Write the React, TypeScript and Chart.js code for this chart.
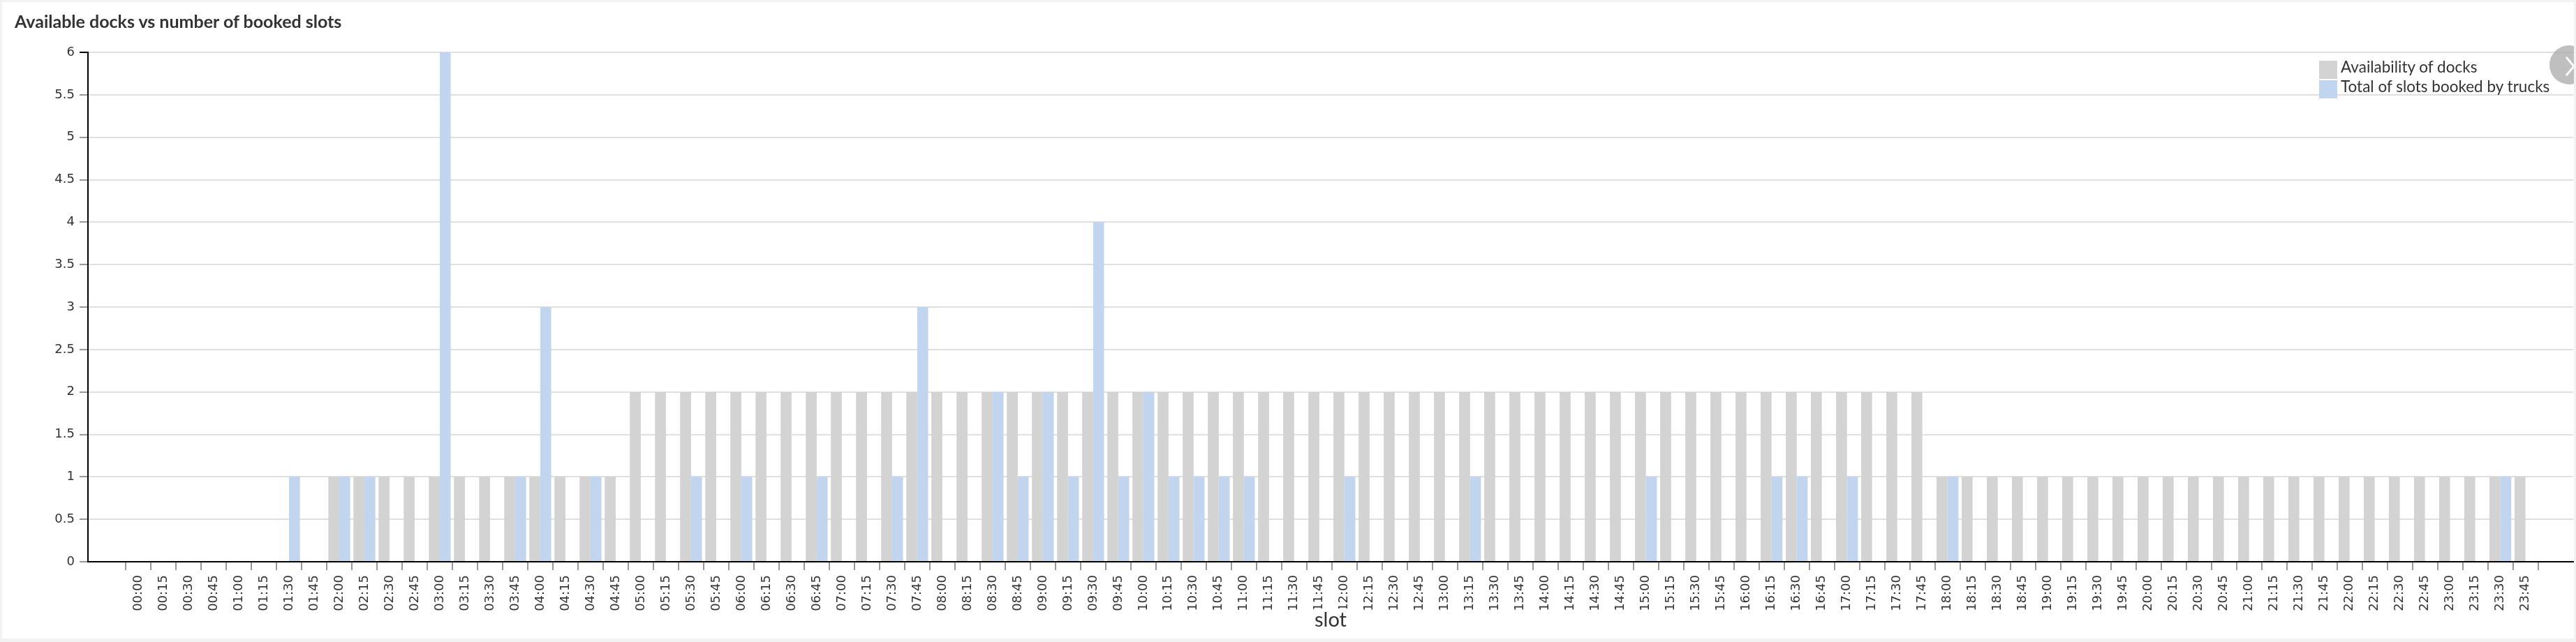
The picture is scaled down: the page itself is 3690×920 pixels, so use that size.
import React, { useEffect, useRef } from "react";
import { Chart, registerables } from "chart.js";

Chart.register(...registerables);

const TITLE = "Available docks vs number of booked slots";
const X_TITLE = "slot";
const SERIES_NAMES = ["Availability of docks", "Total of slots booked by trucks"];

const slots = [
  "00:00", "00:15", "00:30", "00:45", "01:00", "01:15", "01:30", "01:45", "02:00", "02:15", "02:30", "02:45",
  "03:00", "03:15", "03:30", "03:45", "04:00", "04:15", "04:30", "04:45", "05:00", "05:15", "05:30", "05:45",
  "06:00", "06:15", "06:30", "06:45", "07:00", "07:15", "07:30", "07:45", "08:00", "08:15", "08:30", "08:45",
  "09:00", "09:15", "09:30", "09:45", "10:00", "10:15", "10:30", "10:45", "11:00", "11:15", "11:30", "11:45",
  "12:00", "12:15", "12:30", "12:45", "13:00", "13:15", "13:30", "13:45", "14:00", "14:15", "14:30", "14:45",
  "15:00", "15:15", "15:30", "15:45", "16:00", "16:15", "16:30", "16:45", "17:00", "17:15", "17:30", "17:45",
  "18:00", "18:15", "18:30", "18:45", "19:00", "19:15", "19:30", "19:45", "20:00", "20:15", "20:30", "20:45",
  "21:00", "21:15", "21:30", "21:45", "22:00", "22:15", "22:30", "22:45", "23:00", "23:15", "23:30", "23:45",
];

const availability = [
  0, 0, 0, 0, 0, 0, 0, 0, 1, 1, 1, 1,
  1, 1, 1, 1, 1, 1, 1, 1, 2, 2, 2, 2,
  2, 2, 2, 2, 2, 2, 2, 2, 2, 2, 2, 2,
  2, 2, 2, 2, 2, 2, 2, 2, 2, 2, 2, 2,
  2, 2, 2, 2, 2, 2, 2, 2, 2, 2, 2, 2,
  2, 2, 2, 2, 2, 2, 2, 2, 2, 2, 2, 2,
  1, 1, 1, 1, 1, 1, 1, 1, 1, 1, 1, 1,
  1, 1, 1, 1, 1, 1, 1, 1, 1, 1, 1, 1,
];

const booked = [
  0, 0, 0, 0, 0, 0, 1, 0, 1, 1, 0, 0,
  6, 0, 0, 1, 3, 0, 1, 0, 0, 0, 1, 0,
  1, 0, 0, 1, 0, 0, 1, 3, 0, 0, 2, 1,
  2, 1, 4, 1, 2, 1, 1, 1, 1, 0, 0, 0,
  1, 0, 0, 0, 0, 1, 0, 0, 0, 0, 0, 0,
  1, 0, 0, 0, 0, 1, 1, 0, 1, 0, 0, 0,
  1, 0, 0, 0, 0, 0, 0, 0, 0, 0, 0, 0,
  0, 0, 0, 0, 0, 0, 0, 0, 0, 0, 1, 0,
];

const Y_MIN = 0;
const Y_MAX = 6;
const Y_STEP = 0.5;
// band padding of the slot axis, in slot units, before the first and after the last slot
const X_PAD_START = 2;
const X_PAD_END = 1.9;

const GREY = "rgb(211,211,211)";
const BLUE = "rgb(194,213,238)";
const TEXT = "#333333";
const TICK_FONT = "'DejaVu Sans', Verdana, sans-serif";

export default function App() {
  const canvasRef = useRef<HTMLCanvasElement | null>(null);

  useEffect(() => {
    document.body.style.margin = "0";
    document.body.style.background = "#f2f2f2";
    const canvas = canvasRef.current;
    if (!canvas) return;
    const toPoints = (arr: number[]) => arr.map((y, i) => ({ x: i, y }));
    const chart = new Chart(canvas, {
      type: "bar",
      data: {
        datasets: [
          {
            label: SERIES_NAMES[0],
            data: toPoints(availability),
            backgroundColor: GREY,
            borderWidth: 0,
            categoryPercentage: 0.87,
            barPercentage: 1,
          },
          {
            label: SERIES_NAMES[1],
            data: toPoints(booked),
            backgroundColor: BLUE,
            borderWidth: 0,
            categoryPercentage: 0.87,
            barPercentage: 1,
          },
        ],
      },
      options: {
        responsive: false,
        animation: false,
        devicePixelRatio: 1,
        layout: { padding: { top: 75, right: 4, left: 0, bottom: 0 } },
        plugins: {
          legend: { display: false },
          title: { display: false },
          tooltip: { enabled: false },
        },
        scales: {
          x: {
            type: "linear",
            min: -X_PAD_START,
            max: slots.length - 1 + X_PAD_END,
            offset: false,
            grid: {
              display: true,
              drawOnChartArea: false,
              drawTicks: true,
              tickLength: 12,
              color: "#999999",
              lineWidth: 2,
            },
            border: { display: true, color: "#000000", width: 2 },
            ticks: {
              stepSize: 1,
              autoSkip: false,
              minRotation: 90,
              maxRotation: 90,
              padding: 7,
              color: TEXT,
              font: { family: TICK_FONT, size: 18 },
              callback: (v: any) => slots[v as number] ?? "",
            },
            afterBuildTicks: (s: any) => {
              s.ticks = s.ticks.filter(
                (t: any) => Number.isInteger(t.value) && t.value >= 0 && t.value < slots.length
              );
            },
            afterFit: (s: any) => {
              s.height = 115;
            },
          },
          y: {
            min: Y_MIN,
            max: Y_MAX,
            ticks: {
              stepSize: Y_STEP,
              padding: 7,
              color: TEXT,
              font: { family: TICK_FONT, size: 18 },
              callback: (v: any) => String(Number(v)),
            },
            grid: {
              color: "#e0e0e0",
              lineWidth: 2,
              tickLength: 12,
              tickColor: (ctx: any) => (ctx.tick && ctx.tick.value === Y_MAX ? "#000000" : "#999999"),
            },
            border: { display: true, color: "#000000", width: 2 },
            afterFit: (s: any) => {
              s.width = 126;
            },
          },
        },
      },
    });
    return () => chart.destroy();
  }, []);

  const font = "Lato, 'Noto Sans', sans-serif";

  return (
    <div style={{ position: "relative", width: 3690, height: 920, background: "#f2f2f2", overflow: "hidden" }}>
      <div
        style={{
          position: "absolute",
          left: 3,
          top: 3,
          width: 3684,
          height: 912,
          background: "#ffffff",
          overflow: "hidden",
        }}
      />
      <canvas
        ref={canvasRef}
        width={3690}
        height={920}
        style={{ position: "absolute", left: 0, top: 0, width: 3690, height: 920 }}
      />
      <div
        style={{
          position: "absolute",
          left: 21,
          top: 14.5,
          fontFamily: font,
          fontWeight: 700,
          fontSize: 25,
          lineHeight: 1.2,
          color: TEXT,
          whiteSpace: "nowrap",
        }}
      >
        {TITLE}
      </div>
      {/* legend */}
      <div style={{ position: "absolute", left: 3322, top: 87, width: 26, height: 26, background: GREY }} />
      <div style={{ position: "absolute", left: 3322, top: 115, width: 26, height: 26, background: BLUE }} />
      <div
        style={{
          position: "absolute",
          left: 3353,
          top: 85,
          fontFamily: font,
          fontSize: 22.5,
          lineHeight: 1,
          color: TEXT,
          whiteSpace: "nowrap",
        }}
      >
        {SERIES_NAMES[0]}
      </div>
      <div
        style={{
          position: "absolute",
          left: 3353,
          top: 112.5,
          fontFamily: font,
          fontSize: 22.5,
          lineHeight: 1,
          color: TEXT,
          whiteSpace: "nowrap",
        }}
      >
        {SERIES_NAMES[1]}
      </div>
      {/* x axis title */}
      <div
        style={{
          position: "absolute",
          left: 1906,
          top: 872,
          transform: "translateX(-50%)",
          fontFamily: font,
          fontSize: 29,
          lineHeight: 1,
          color: TEXT,
          background: "#ffffff",
          padding: "0 1px",
          whiteSpace: "nowrap",
        }}
      >
        {X_TITLE}
      </div>
      {/* nav chevron */}
      <div
        style={{
          position: "absolute",
          left: 3,
          top: 3,
          width: 3684,
          height: 912,
          overflow: "hidden",
          pointerEvents: "none",
        }}
      >
        <div
          style={{
            position: "absolute",
            left: 3649,
            top: 62,
            width: 56,
            height: 56,
            borderRadius: "50%",
            background: "rgba(170,170,170,0.75)",
          }}
        >
          <svg width={56} height={56} style={{ position: "absolute", left: 0, top: 0 }}>
            <polyline points="24,17 35,30 24,43" fill="none" stroke="#ffffff" strokeWidth={3} />
          </svg>
        </div>
      </div>
    </div>
  );
}
